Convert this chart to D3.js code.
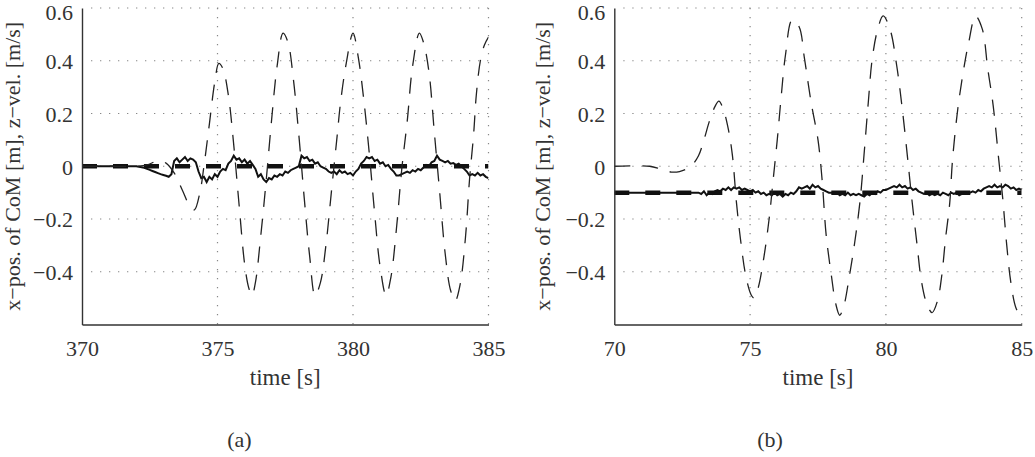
<!DOCTYPE html>
<html>
<head>
<meta charset="utf-8">
<script src="https://cdn.jsdelivr.net/npm/d3@7"></script>
<style>
body { margin: 0; background: #fff; }
svg text { font-family: "Liberation Serif", "Times New Roman", serif; fill: #333; }
</style>
</head>
<body>
<div id="chart"></div>
<script>
// shared axis values
const yTicks = [-0.4, -0.2, 0, 0.2, 0.4, 0.6];
const yDomain = [-0.6, 0.6];

// panel (a)
const xDomainA = [370, 385];
const xTicksA = [370, 375, 380, 385];
const refA = 0;              // desired x-pos (thick dashed)
const posStartA = 370, posStep = 0.1;
// measured x-pos of CoM, one value every 0.1 s (one row = 1 s)
const posA = [
  0, 0, 0, 0, 0, 0, 0, 0, 0, 0,
  0, 0, 0, 0, 0, 0, 0, 0, 0, 0,
  0, -0.002, -0.004, -0.006, -0.01, -0.014, -0.018, -0.022, -0.026, -0.03,
  -0.033, -0.036, -0.04, -0.03, 0.02, 0.03, 0.015, 0.025, 0.035, 0.02,
  0.03, 0.025, 0.015, -0.02, -0.045, -0.04, -0.06, -0.04, -0.05, -0.03,
  -0.04, -0.02, -0.01, -0.015, 0.01, 0.02, 0.04, 0.025, 0.03, 0.015,
  0.025, 0.01, 0.02, 0.005, -0.01, -0.04, -0.03, -0.05, -0.06, -0.045,
  -0.05, -0.035, -0.04, -0.03, -0.035, -0.02, -0.025, -0.015, -0.01, -0.005,
  0.0, 0.04, 0.03, 0.035, 0.02, 0.025, 0.01, 0.015, 0.0, -0.005,
  -0.01, -0.02, -0.025, -0.02, -0.03, -0.015, -0.025, -0.02, -0.03, -0.025,
  -0.035, -0.02, -0.01, 0.01, 0.02, 0.035, 0.03, 0.035, 0.02, 0.025,
  0.01, 0.015, 0.0, 0.005, -0.01, -0.02, -0.035, -0.035, -0.03, -0.025,
  -0.02, -0.025, -0.015, -0.02, -0.01, -0.015, -0.005, 0.005, 0.0, 0.015,
  0.02, 0.04, 0.025, 0.02, 0.015, 0.02, 0.01, 0.012, 0.005, 0.01,
  0.0, -0.01, -0.02, -0.035, -0.03, -0.035, -0.025, -0.035, -0.03, -0.04,
  -0.045
];
// z-velocity [time, value]
const velA = [
  [370, 0], [371, 0], [372, 0], [372.4, 0.005], [372.8, 0.02], [373.1, 0.012],
  [373.4, -0.025], [373.7, -0.09], [374.0, -0.155], [374.15, -0.165], [374.35, -0.1],
  [374.5, 0.0], [374.7, 0.16], [374.9, 0.32], [375.05, 0.39], [375.2, 0.37],
  [375.4, 0.27], [375.6, 0.08], [375.8, -0.15], [376.0, -0.37], [376.15, -0.46],
  [376.27, -0.49], [376.4, -0.44], [376.6, -0.26], [376.8, -0.05], [377.0, 0.18],
  [377.2, 0.38], [377.42, 0.505], [377.6, 0.47], [377.8, 0.33], [378.0, 0.12],
  [378.2, -0.12], [378.4, -0.34], [378.6, -0.49], [378.8, -0.44], [379.0, -0.3],
  [379.2, -0.1], [379.4, 0.1], [379.55, 0.25], [379.75, 0.39], [380.0, 0.505],
  [380.2, 0.41], [380.4, 0.25], [380.6, 0.05], [380.8, -0.18], [381.0, -0.38],
  [381.22, -0.49], [381.4, -0.42], [381.6, -0.24], [381.8, -0.01], [382.0, 0.17],
  [382.2, 0.38], [382.45, 0.505], [382.6, 0.47], [382.8, 0.36], [383.0, 0.13],
  [383.2, -0.1], [383.4, -0.33], [383.6, -0.47], [383.77, -0.51], [383.95, -0.45],
  [384.15, -0.27], [384.3, -0.05], [384.45, 0.12], [384.55, 0.27], [384.7, 0.4],
  [384.85, 0.46], [385.0, 0.49]
];

// panel (b)
const xDomainB = [70, 85];
const xTicksB = [70, 75, 80, 85];
const refB = -0.1;
const posStartB = 70;
const posB = [
  -0.1, -0.1, -0.1, -0.1, -0.1, -0.1, -0.1, -0.1, -0.1, -0.1,
  -0.1, -0.1, -0.1, -0.1, -0.1, -0.1, -0.1, -0.1, -0.1, -0.1,
  -0.1, -0.1, -0.1, -0.1, -0.1, -0.1, -0.1, -0.1, -0.1, -0.1,
  -0.1, -0.1, -0.105, -0.095, -0.11, -0.1, -0.105, -0.095, -0.09, -0.095,
  -0.085, -0.09, -0.08, -0.09, -0.08, -0.085, -0.08, -0.09, -0.085, -0.09,
  -0.095, -0.09, -0.1, -0.095, -0.105, -0.1, -0.11, -0.105, -0.11, -0.1,
  -0.11, -0.105, -0.115, -0.105, -0.11, -0.1, -0.105, -0.095, -0.08, -0.085,
  -0.08, -0.075, -0.085, -0.07, -0.08, -0.075, -0.085, -0.09, -0.095, -0.1,
  -0.1, -0.105, -0.1, -0.11, -0.105, -0.11, -0.1, -0.11, -0.105, -0.11,
  -0.105, -0.11, -0.115, -0.105, -0.11, -0.1, -0.105, -0.095, -0.1, -0.09,
  -0.09, -0.085, -0.08, -0.075, -0.08, -0.07, -0.08, -0.075, -0.085, -0.08,
  -0.09, -0.085, -0.095, -0.1, -0.105, -0.1, -0.11, -0.105, -0.11, -0.105,
  -0.11, -0.1, -0.105, -0.11, -0.1, -0.105, -0.1, -0.11, -0.105, -0.1,
  -0.105, -0.1, -0.095, -0.1, -0.09, -0.095, -0.085, -0.08, -0.075, -0.08,
  -0.07, -0.08, -0.075, -0.08, -0.07, -0.075, -0.085, -0.08, -0.09, -0.085,
  -0.09
];
const velB = [
  [70, 0], [71.3, 0], [71.7, -0.01], [72.1, -0.022], [72.4, -0.02], [72.8, -0.002],
  [73.1, 0.04], [73.3, 0.1], [73.5, 0.17], [73.7, 0.225], [73.85, 0.247], [74.0, 0.22],
  [74.2, 0.14], [74.35, 0.04], [74.5, -0.14], [74.65, -0.28], [74.85, -0.42],
  [75.05, -0.49], [75.15, -0.5], [75.3, -0.46], [75.5, -0.35], [75.7, -0.2],
  [75.85, -0.05], [76.0, 0.1], [76.15, 0.27], [76.3, 0.42], [76.55, 0.555],
  [76.8, 0.53], [77.0, 0.41], [77.25, 0.24], [77.5, 0.1], [77.65, -0.05],
  [77.8, -0.26], [78.0, -0.42], [78.15, -0.52], [78.3, -0.565], [78.45, -0.53],
  [78.65, -0.42], [78.85, -0.29], [79.05, -0.13], [79.2, 0.05], [79.35, 0.24],
  [79.5, 0.41], [79.7, 0.52], [79.9, 0.57], [80.15, 0.52], [80.4, 0.38],
  [80.6, 0.22], [80.8, 0.03], [80.95, -0.12], [81.15, -0.3], [81.3, -0.43],
  [81.5, -0.52], [81.7, -0.555], [81.9, -0.51], [82.05, -0.42], [82.2, -0.27],
  [82.35, -0.14], [82.45, 0.02], [82.65, 0.22], [82.9, 0.39], [83.05, 0.47],
  [83.3, 0.57], [83.55, 0.52], [83.75, 0.37], [83.95, 0.23], [84.15, 0.03],
  [84.3, -0.12], [84.45, -0.3], [84.6, -0.44], [84.8, -0.54], [85.0, -0.57]
];

const width = 1035, height = 457;
const plotTop = 8, plotBottom = 324.5;
const serif = "'Liberation Serif', 'Times New Roman', serif";

const svg = d3.select("#chart")
    .append("svg")
    .attr("width", width)
    .attr("height", height);

const panels = [
    { id: "a", domain: xDomainA, ticks: xTicksA, ref: refA, pos: posA, posStart: posStartA, vel: velA,
      left: 82, right: 488.5, ylabelX: 20, caption: "(a)", captionX: 239.5 },
    { id: "b", domain: xDomainB, ticks: xTicksB, ref: refB, pos: posB, posStart: posStartB, vel: velB,
      left: 614.3, right: 1021.7, ylabelX: 550, caption: "(b)", captionX: 770 }
];

panels.forEach(p => {
    const x = d3.scaleLinear().domain(p.domain).range([p.left, p.right]);
    const y = d3.scaleLinear().domain(yDomain).range([plotBottom, plotTop]);
    const g = svg.append("g");

    // dotted grid
    const grid = g.append("g")
        .attr("stroke", "#888")
        .attr("stroke-width", 1.2)
        .attr("stroke-dasharray", "1.3,7.7");
    grid.selectAll("line.h")
        .data(yTicks)
        .join("line")
        .attr("class", "h")
        .attr("x1", p.left + 9).attr("x2", p.right)
        .attr("y1", d => y(d)).attr("y2", d => y(d));
    grid.selectAll("line.v")
        .data(p.ticks.slice(1))
        .join("line")
        .attr("class", "v")
        .attr("x1", d => x(d)).attr("x2", d => x(d))
        .attr("y1", plotTop).attr("y2", plotBottom);

    g.append("clipPath").attr("id", "clip-" + p.id)
        .append("rect")
        .attr("x", p.left).attr("y", plotTop)
        .attr("width", p.right - p.left).attr("height", plotBottom - plotTop);

    const lines = g.append("g").attr("clip-path", `url(#clip-${p.id})`);
    const line = d3.line().x(d => x(d[0])).y(d => y(d[1]));

    // reference: thick dashed
    lines.append("path")
        .attr("d", line([[p.domain[0], p.ref], [p.domain[1], p.ref]]))
        .attr("fill", "none")
        .attr("stroke", "#111")
        .attr("stroke-width", 4.5)
        .attr("stroke-dasharray", "15,16");

    // measured x-pos: thin solid (noisy)
    const posPts = p.pos.map((v, i) => [p.posStart + i * posStep, v]);
    lines.append("path")
        .attr("d", line(posPts))
        .attr("fill", "none")
        .attr("stroke", "#111")
        .attr("stroke-width", 2);

    // z-velocity: thin dashed
    lines.append("path")
        .attr("d", line.curve(d3.curveCatmullRom)(p.vel))
        .attr("fill", "none")
        .attr("stroke", "#222")
        .attr("stroke-width", 1.3)
        .attr("stroke-dasharray", "16,12");

    // axes
    const xAxis = g.append("g")
        .attr("transform", `translate(0,${plotBottom})`)
        .call(d3.axisBottom(x).tickValues(p.ticks).tickSizeInner(0).tickSizeOuter(0).tickPadding(16));
    const yAxis = g.append("g")
        .attr("transform", `translate(${p.left},0)`)
        .call(d3.axisLeft(y).tickValues(yTicks).tickFormat(d3.format("~g"))
            .tickSizeInner(0).tickSizeOuter(0).tickPadding(9));
    [xAxis, yAxis].forEach(a => {
        a.attr("font-family", null);
        a.select(".domain").attr("stroke", "#333").attr("stroke-width", 1.4);
        a.selectAll("text")
            .style("font-family", serif)
            .style("font-size", "22px")
            .style("fill", "#333");
    });
    yAxis.selectAll("text").attr("dy", "0.36em");
    // keep the top label inside the page
    yAxis.selectAll(".tick text")
        .filter(d => d === yTicks[yTicks.length - 1])
        .attr("y", 4);

    g.append("text")
        .attr("x", (p.left + p.right) / 2)
        .attr("y", 385)
        .attr("text-anchor", "middle")
        .style("font-family", serif)
        .style("font-size", "23px")
        .text("time [s]");

    g.append("text")
        .attr("transform", `translate(${p.ylabelX},${(plotTop + plotBottom) / 2}) rotate(-90)`)
        .attr("text-anchor", "middle")
        .style("font-family", serif)
        .style("font-size", "22px")
        .text("x\u2212pos. of CoM [m], z\u2212vel. [m/s]");

    g.append("text")
        .attr("x", p.captionX)
        .attr("y", 447)
        .attr("text-anchor", "middle")
        .style("font-family", serif)
        .style("font-size", "22px")
        .text(p.caption);
});
</script>
</body>
</html>
